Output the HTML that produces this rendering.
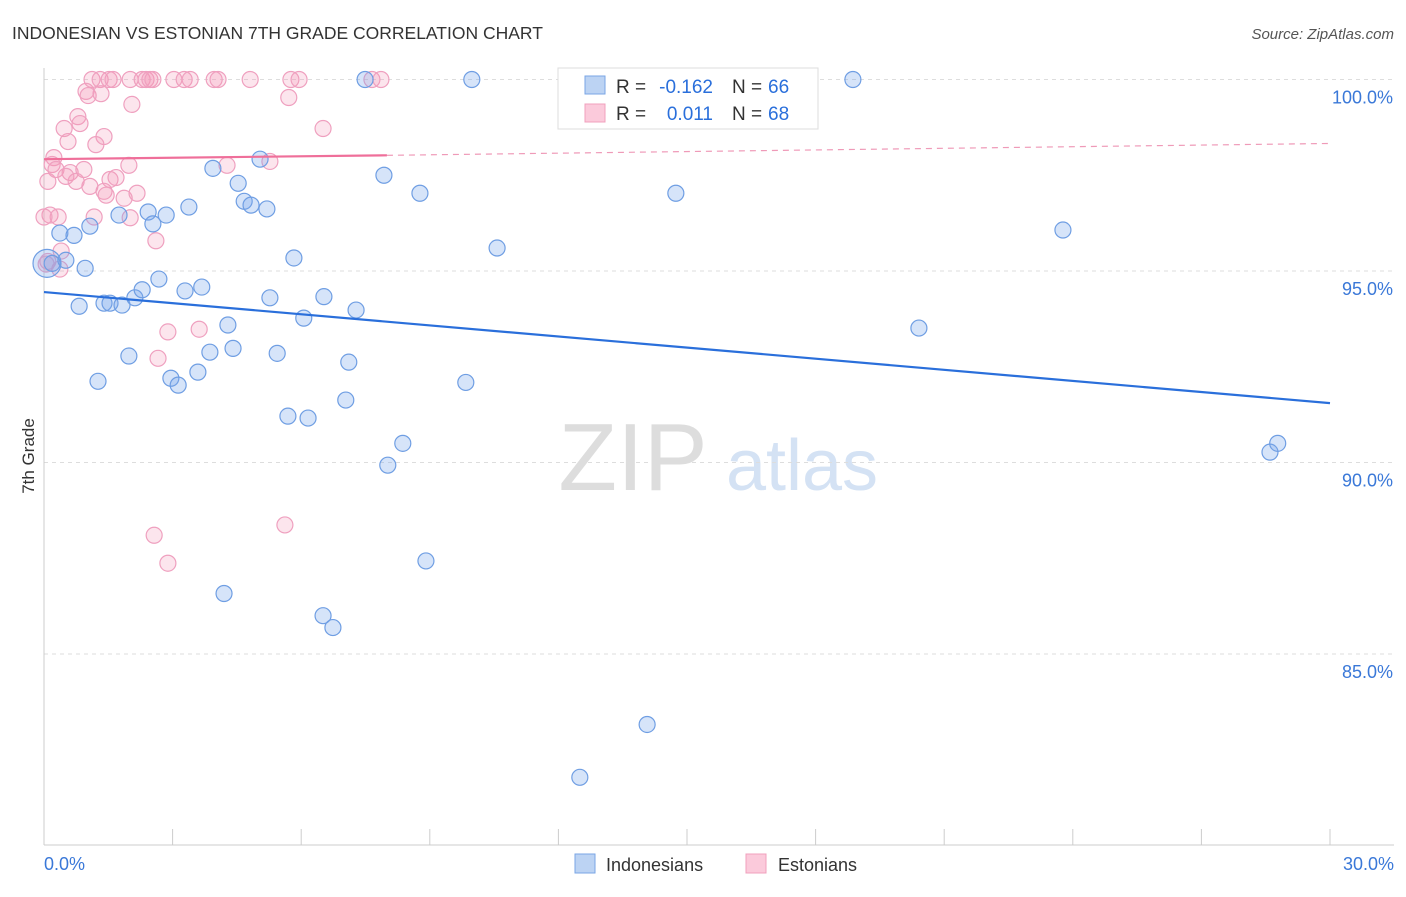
<!DOCTYPE html>
<html><head><meta charset="utf-8"><style>
body{margin:0;background:#fff;font-family:"Liberation Sans",sans-serif;}
svg text{font-family:"Liberation Sans",sans-serif;}
</style></head><body>
<svg id="chart" width="1406" height="892" xmlns="http://www.w3.org/2000/svg">
<text x="12" y="39" font-size="17.5" fill="#333">INDONESIAN VS ESTONIAN 7TH GRADE CORRELATION CHART</text>
<text x="1394" y="39" font-size="15" fill="#555" text-anchor="end" font-style="italic">Source: ZipAtlas.com</text>
<text transform="translate(34,456) rotate(-90)" font-size="17" fill="#333" text-anchor="middle">7th Grade</text>
<g>
<text x="633" y="490" font-size="96" fill="#ddd" font-family="Liberation Serif,serif" text-anchor="middle">ZIP</text>
<text x="802" y="490" font-size="72" fill="#d4e2f4" text-anchor="middle">atlas</text>
</g>
<g id="grid"></g>
<g id="axes"></g>
<g id="pts"></g>
<g id="lines"></g>
<g>
<rect x="558" y="68" width="260" height="61" fill="#fff" stroke="#ddd"/>
<rect x="585" y="76" width="20" height="18" fill="#bcd3f3" stroke="#7aa6e6"/>
<rect x="585" y="104" width="20" height="18" fill="#fbcadb" stroke="#f0a0bd"/>
<text x="616" y="93" font-size="19" fill="#333">R =</text>
<text x="713" y="93" font-size="19" fill="#2a6fdb" text-anchor="end">-0.162</text>
<text x="732" y="93" font-size="19" fill="#333">N =</text>
<text x="768" y="93" font-size="19" fill="#2a6fdb">66</text>
<text x="616" y="120" font-size="19" fill="#333">R =</text>
<text x="713" y="120" font-size="19" fill="#2a6fdb" text-anchor="end">0.011</text>
<text x="732" y="120" font-size="19" fill="#333">N =</text>
<text x="768" y="120" font-size="19" fill="#2a6fdb">68</text>
</g>
<g>
<rect x="575" y="854" width="20" height="19" fill="#bcd3f3" stroke="#7aa6e6"/>
<text x="606" y="871" font-size="18" fill="#333">Indonesians</text>
<rect x="746" y="854" width="20" height="19" fill="#fbcadb" stroke="#f0a0bd"/>
<text x="778" y="871" font-size="18" fill="#333">Estonians</text>
</g>
</svg>
<script>
const blueX=[0.07,0.19,0.37,0.51,0.7,0.82,0.96,1.07,1.26,1.4,1.54,1.75,1.82,1.98,2.12,2.29,2.43,2.54,2.68,2.85,2.96,3.13,3.29,3.38,3.59,3.68,3.87,3.94,4.29,4.41,4.53,4.67,4.83,5.04,5.2,5.27,5.44,5.69,5.83,6.06,6.16,6.53,7.04,7.11,7.28,7.49,7.93,8.02,8.37,8.77,8.91,9.84,9.98,10.57,12.5,14.07,14.74,18.87,20.41,23.77,28.6,28.78,4.2,6.51,6.74];
const blueY=[95.2,95.2,95.99,95.28,95.93,94.08,95.07,96.17,92.12,94.16,94.16,96.46,94.11,92.78,94.3,94.51,96.54,96.23,94.79,96.46,92.2,92.02,94.48,96.67,92.36,94.58,92.88,97.68,93.59,92.98,97.29,96.82,96.72,97.92,96.62,94.3,92.85,91.21,95.34,93.77,91.16,94.33,91.63,92.62,93.98,100,97.5,89.93,90.5,97.03,87.43,92.09,100,95.6,81.78,83.16,97.03,100,93.51,96.07,90.27,90.5,86.58,86.0,85.69];
const pinkX=[1.12,1.31,1.52,1.61,2.01,2.29,2.38,2.47,2.54,3.03,3.27,3.41,3.97,4.06,4.81,5.76,5.95,7.65,7.86,0.98,1.03,1.33,0.79,0.47,0.84,2.05,0.23,0.56,1.4,1.21,0.19,0.28,0.61,0.93,0.51,0.75,1.54,1.98,4.27,0.09,1.68,1.07,1.4,1.87,2.17,0.14,0.33,1.17,2.01,0.0,1.45,0.4,2.61,5.27,5.71,6.51,2.89,3.62,2.66,2.57,2.89,5.62,0.09,0.37,0.05];
const pinkY=[100,100,100,100,100,100,100,100,100,100,100,100,100,100,100,100,100,100,100,99.69,99.58,99.63,99.03,98.72,98.85,99.35,97.96,98.38,98.51,98.3,97.78,97.65,97.57,97.65,97.47,97.34,97.39,97.76,97.76,97.34,97.44,97.21,97.08,96.9,97.03,96.46,96.41,96.41,96.39,96.41,96.98,95.52,95.79,97.86,99.53,98.72,93.41,93.48,92.72,88.1,87.37,88.37,95.25,95.05,95.18];
const xTicks=["0.0%","30.0%"];
const yVals=[100,95,90,85];
const yLabels=["100.0%","95.0%","90.0%","85.0%"];
const blueLine=[94.45,91.55];
const pinkLine=[97.92,98.02,98.33];
const X=v=>44+v/30*1286, Y=v=>79.5+(100-v)*38.3;
const NS="http://www.w3.org/2000/svg";
function mk(p,t,a){const e=document.createElementNS(NS,t);for(const k in a)e.setAttribute(k,a[k]);p.appendChild(e);return e;}
const grid=document.getElementById('grid'),axes=document.getElementById('axes'),pts=document.getElementById('pts'),lines=document.getElementById('lines');
yVals.forEach((v,i)=>{
 const l=mk(grid,'line',{x1:44,x2:1394,y1:Y(v),y2:Y(v),stroke:'#ddd','stroke-dasharray':'4,4'});
 
 
 const t=mk(axes,'text',{x:1393,y:Y(v)+24,'font-size':18,fill:'#3a78d8','text-anchor':'end'});t.textContent=yLabels[i];
 
 
});
const xa=mk(axes,'line',{x1:44,x2:1394,y1:845,y2:845,stroke:'#ccc'});


const ya=mk(axes,'line',{x1:44,x2:44,y1:68,y2:845,stroke:'#ccc'});


for(let i=0;i<=10;i++){const t=mk(axes,'line',{x1:X(i*3),x2:X(i*3),y1:829,y2:845,stroke:'#ccc'});
 
 }
[[0,'start',44],[1,'end',1394]].forEach(([i,a,x])=>{const t=mk(axes,'text',{x:x,y:870,'font-size':18,fill:'#3a78d8','text-anchor':a});t.textContent=xTicks[i];
 
 });
pinkX.forEach((v,i)=>{const c=mk(pts,'circle',{cx:X(v),cy:Y(pinkY[i]),r:8,fill:'rgba(243,150,185,0.25)',stroke:'#efa0bf','stroke-width':1.2});
 
 });
blueX.forEach((v,i)=>{const c=mk(pts,'circle',{cx:X(v),cy:Y(blueY[i]),r:i==0?14:8,fill:'rgba(120,165,235,0.3)',stroke:'#6f9ee3','stroke-width':1.2});
 
 });
const bl=mk(lines,'line',{x1:X(0),y1:Y(blueLine[0]),x2:X(30),y2:Y(blueLine[1]),stroke:'#2a6fdb','stroke-width':2.2});


const pl=mk(lines,'line',{x1:X(0),y1:Y(pinkLine[0]),x2:X(8),y2:Y(pinkLine[1]),stroke:'#ef6f9a','stroke-width':2.2});


const pd=mk(lines,'line',{x1:X(8),y1:Y(pinkLine[1]),x2:X(30),y2:Y(pinkLine[2]),stroke:'#ef9ab8','stroke-width':1.2,'stroke-dasharray':'6,5'});


</script>
</body></html>
